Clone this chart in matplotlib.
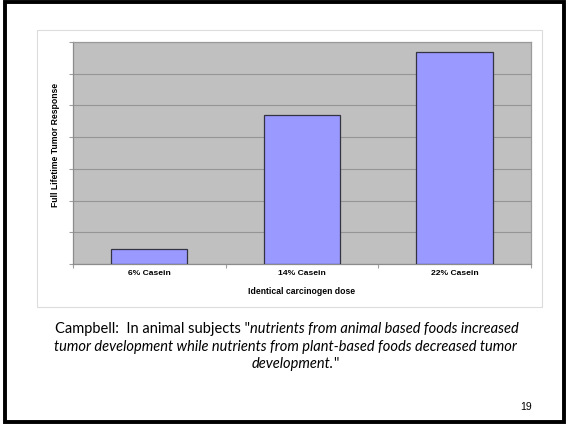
import matplotlib
matplotlib.use("Agg")
import matplotlib.pyplot as plt
from matplotlib.patches import Rectangle

categories = ["6% Casein", "14% Casein", "22% Casein"]
values = [0.47, 4.7, 6.67]
y_ticks = [0, 1, 2, 3, 4, 5, 6, 7]

W, H = 566, 424
fig = plt.figure(figsize=(W / 100, H / 100), dpi=100)
fig.patch.set_facecolor("white")

def fx(x):
    return x / W

def fy(y):
    return 1 - y / H

# slide frame
fig.add_artist(Rectangle((fx(4.5), fy(422)), fx(563.5 - 4.5), (422 - 1.5) / H,
                         transform=fig.transFigure, fill=False, edgecolor="black", lw=2.8))
# chart area border
fig.add_artist(Rectangle((fx(37), fy(307)), fx(542 - 37), (307 - 29.5) / H,
                         transform=fig.transFigure, fill=False, edgecolor="#dcdcdc", lw=0.8))

left, right, top, bottom = 73, 530.7, 42, 264
ax = fig.add_axes([fx(left), fy(bottom), fx(right - left), (bottom - top) / H])
ax.set_facecolor("#c0c0c0")
x = list(range(len(categories)))
ax.bar(x, values, width=0.5, color="#9999ff", edgecolor="#333344", linewidth=0.9, zorder=3)
ax.set_xlim(-0.5, len(categories) - 0.5)
ax.set_ylim(y_ticks[0], y_ticks[-1])
ax.set_yticks(y_ticks)
ax.set_yticklabels([])
ax.yaxis.grid(True, color="#959595", lw=0.8, zorder=1)
ax.set_xticks(x)
ax.set_xticklabels(categories, fontsize=6.1, fontweight="bold", family="Liberation Sans")
ax.set_xticks([i - 0.5 for i in range(len(categories) + 1)], minor=True)
ax.tick_params(axis="x", which="major", length=0, pad=4.5)
ax.tick_params(axis="x", which="minor", length=3, color="#a0a0a0", width=0.8)
ax.tick_params(axis="y", length=3, color="#a0a0a0", width=0.8)
for s in ["left", "bottom"]:
    ax.spines[s].set_color("#8c8c8c")
    ax.spines[s].set_linewidth(0.9)
for s in ["top", "right"]:
    ax.spines[s].set_color("#9a9a9a")
    ax.spines[s].set_linewidth(0.9)
ax.set_axisbelow(True)

fig.text(fx(55), fy(145), "Full Lifetime Tumor Response", rotation=90, ha="center", va="center",
         fontsize=6.2, fontweight="bold", family="Liberation Sans")
fig.text(fx(302), fy(292), "Identical carcinogen dose", ha="center", va="center",
         fontsize=6.2, fontweight="bold", family="Liberation Sans")

cap_font = "Lato"
fs = 10.5
cx = 287
line1_a = "Campbell:  In animal subjects \""
line1_b = "nutrients from animal based foods increased"
t1 = fig.text(0, 0, line1_a, fontsize=fs, family=cap_font)
t2 = fig.text(0, 0, line1_b, fontsize=fs, family=cap_font, style="italic")
fig.canvas.draw()
r = fig.canvas.get_renderer()
w1 = t1.get_window_extent(r).width
w2 = t2.get_window_extent(r).width
x0 = cx - (w1 + w2) / 2
t1.set_position((fx(x0), fy(329)))
t1.set_va("center")
t2.set_position((fx(x0 + w1), fy(329)))
t2.set_va("center")

fig.text(fx(cx - 2), fy(347), "tumor development while nutrients from plant-based foods decreased tumor",
         ha="center", va="center", fontsize=fs, family=cap_font, style="italic")
t3 = fig.text(0, 0, "development.", fontsize=fs, family=cap_font, style="italic")
t4 = fig.text(0, 0, "\"", fontsize=fs, family=cap_font)
fig.canvas.draw()
w3 = t3.get_window_extent(r).width
w4 = t4.get_window_extent(r).width
x0 = cx + 8 - (w3 + w4) / 2
t3.set_position((fx(x0), fy(364)))
t3.set_va("center")
t4.set_position((fx(x0 + w3), fy(364)))
t4.set_va("center")

fig.text(fx(526), fy(407), "19", ha="center", va="center", fontsize=7.5, family="Liberation Sans")

fig.savefig("out.png", dpi=100)
